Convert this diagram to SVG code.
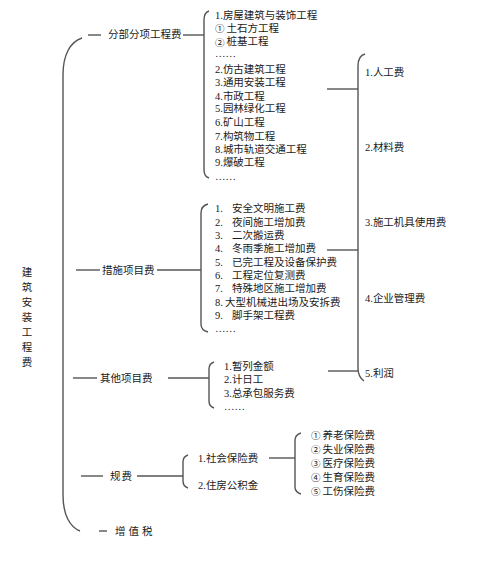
<svg xmlns="http://www.w3.org/2000/svg" width="500" height="572" viewBox="0 0 500 572">
<style>
text{font-family:"Liberation Serif","Noto Sans CJK SC",serif;font-size:10.5px;fill:#1a1a1a;dominant-baseline:central}
.c{font-family:"Noto Sans CJK SC","DejaVu Sans",sans-serif;font-size:9.5px;letter-spacing:2px}
.ln{stroke:#555;stroke-width:1.4;fill:none}
.br{stroke:#555;stroke-width:1.4;fill:none}
</style>
<rect width="500" height="572" fill="#fff"/>
<g id="connectors">
<path class="br" d="M82,38 C70,42 63,55 63,75 V495 C63,515 70,527 80,531"/>
<line class="ln" x1="88" y1="35" x2="101" y2="35"/>
<line class="ln" x1="183" y1="35" x2="204" y2="35"/>
<path class="br" d="M209,11 C206,12 204,15 204,20 V170 C204,175 206,177 209,178"/>
<line class="ln" x1="327" y1="89" x2="358" y2="89"/>
<path class="br" d="M365,54 C361,55 358,59 358,66 V368 C358,375 361,379 364,381"/>
<line class="ln" x1="76" y1="270" x2="100" y2="270"/>
<line class="ln" x1="157" y1="270" x2="201" y2="270"/>
<path class="br" d="M208,204 C204,205 201,208 201,213 V324 C201,329 204,331 208,332"/>
<line class="ln" x1="327" y1="250" x2="358" y2="250"/>
<line class="ln" x1="73" y1="378" x2="97" y2="378"/>
<line class="ln" x1="168" y1="378" x2="209" y2="378"/>
<path class="br" d="M214,362 C211,363 209,365 209,369 V401 C209,405 211,407 214,408"/>
<line class="ln" x1="328" y1="371" x2="358" y2="371"/>
<line class="ln" x1="81" y1="476" x2="103" y2="476"/>
<line class="ln" x1="137" y1="476" x2="183" y2="476"/>
<path class="br" d="M188,455 C185,456 183,458 183,462 V481 C183,485 185,487 188,488"/>
<line class="ln" x1="269" y1="458" x2="295" y2="458"/>
<path class="br" d="M301,433 C298,434 295,436 295,440 V487 C295,491 298,493 301,494"/>
<line class="ln" x1="99" y1="531" x2="107" y2="531"/>
</g>
<g id="root">
<text x="27" y="272" text-anchor="middle">建</text>
<text x="27" y="287" text-anchor="middle">筑</text>
<text x="27" y="302" text-anchor="middle">安</text>
<text x="27" y="317" text-anchor="middle">装</text>
<text x="27" y="332" text-anchor="middle">工</text>
<text x="27" y="347" text-anchor="middle">程</text>
<text x="27" y="362" text-anchor="middle">费</text>
</g>
<g id="fenbu">
<text x="108" y="34">分部分项工程费</text>
</g>
<g id="fenbu-items">
<text x="215" y="15">1.房屋建筑与装饰工程</text>
<text x="215" y="28"><tspan class="c">①</tspan>土石方工程</text>
<text x="215" y="41.5"><tspan class="c">②</tspan>桩基工程</text>
<text x="215" y="53">……</text>
<text x="215" y="69">2.仿古建筑工程</text>
<text x="215" y="82">3.通用安装工程</text>
<text x="215" y="96">4.市政工程</text>
<text x="215" y="108">5.园林绿化工程</text>
<text x="215" y="122">6.矿山工程</text>
<text x="215" y="136">7.构筑物工程</text>
<text x="215" y="149">8.城市轨道交通工程</text>
<text x="215" y="162">9.爆破工程</text>
<text x="215" y="176">……</text>
</g>
<g id="cuoshi">
<text x="102" y="270">措施项目费</text>
</g>
<g id="cuoshi-items">
<text y="208"><tspan x="215">1.</tspan><tspan x="232">安全文明施工费</tspan></text>
<text y="222"><tspan x="215">2.</tspan><tspan x="232">夜间施工增加费</tspan></text>
<text y="235"><tspan x="215">3.</tspan><tspan x="232">二次搬运费</tspan></text>
<text y="248"><tspan x="215">4.</tspan><tspan x="232">冬雨季施工增加费</tspan></text>
<text y="262"><tspan x="215">5.</tspan><tspan x="232">已完工程及设备保护费</tspan></text>
<text y="275"><tspan x="215">6.</tspan><tspan x="232">工程定位复测费</tspan></text>
<text y="288"><tspan x="215">7.</tspan><tspan x="232">特殊地区施工增加费</tspan></text>
<text y="302"><tspan x="215">8.</tspan><tspan x="225">大型机械进出场及安拆费</tspan></text>
<text y="315"><tspan x="215">9.</tspan><tspan x="232">脚手架工程费</tspan></text>
<text x="215" y="328">……</text>
</g>
<g id="qita">
<text x="100" y="378">其他项目费</text>
</g>
<g id="qita-items">
<text x="224" y="366">1.暂列金额</text>
<text x="224" y="379">2.计日工</text>
<text x="224" y="393">3.总承包服务费</text>
<text x="224" y="406">……</text>
</g>
<g id="gefei">
<text x="110" y="476" letter-spacing="1">规费</text>
</g>
<g id="gefei-items">
<text x="198" y="458">1.社会保险费</text>
<text x="198" y="485">2.住房公积金</text>
</g>
<g id="shebao-items">
<text x="311" y="435"><tspan class="c">①</tspan>养老保险费</text>
<text x="311" y="449"><tspan class="c">②</tspan>失业保险费</text>
<text x="311" y="463"><tspan class="c">③</tspan>医疗保险费</text>
<text x="311" y="477"><tspan class="c">④</tspan>生育保险费</text>
<text x="311" y="491"><tspan class="c">⑤</tspan>工伤保险费</text>
</g>
<g id="zengzhi">
<text x="115" y="531" letter-spacing="3">增值税</text>
</g>
<g id="cost-elements">
<text x="365" y="72">1.人工费</text>
<text x="365" y="147">2.材料费</text>
<text x="365" y="222">3.施工机具使用费</text>
<text x="365" y="298">4.企业管理费</text>
<text x="365" y="373">5.利润</text>
</g>
</svg>
